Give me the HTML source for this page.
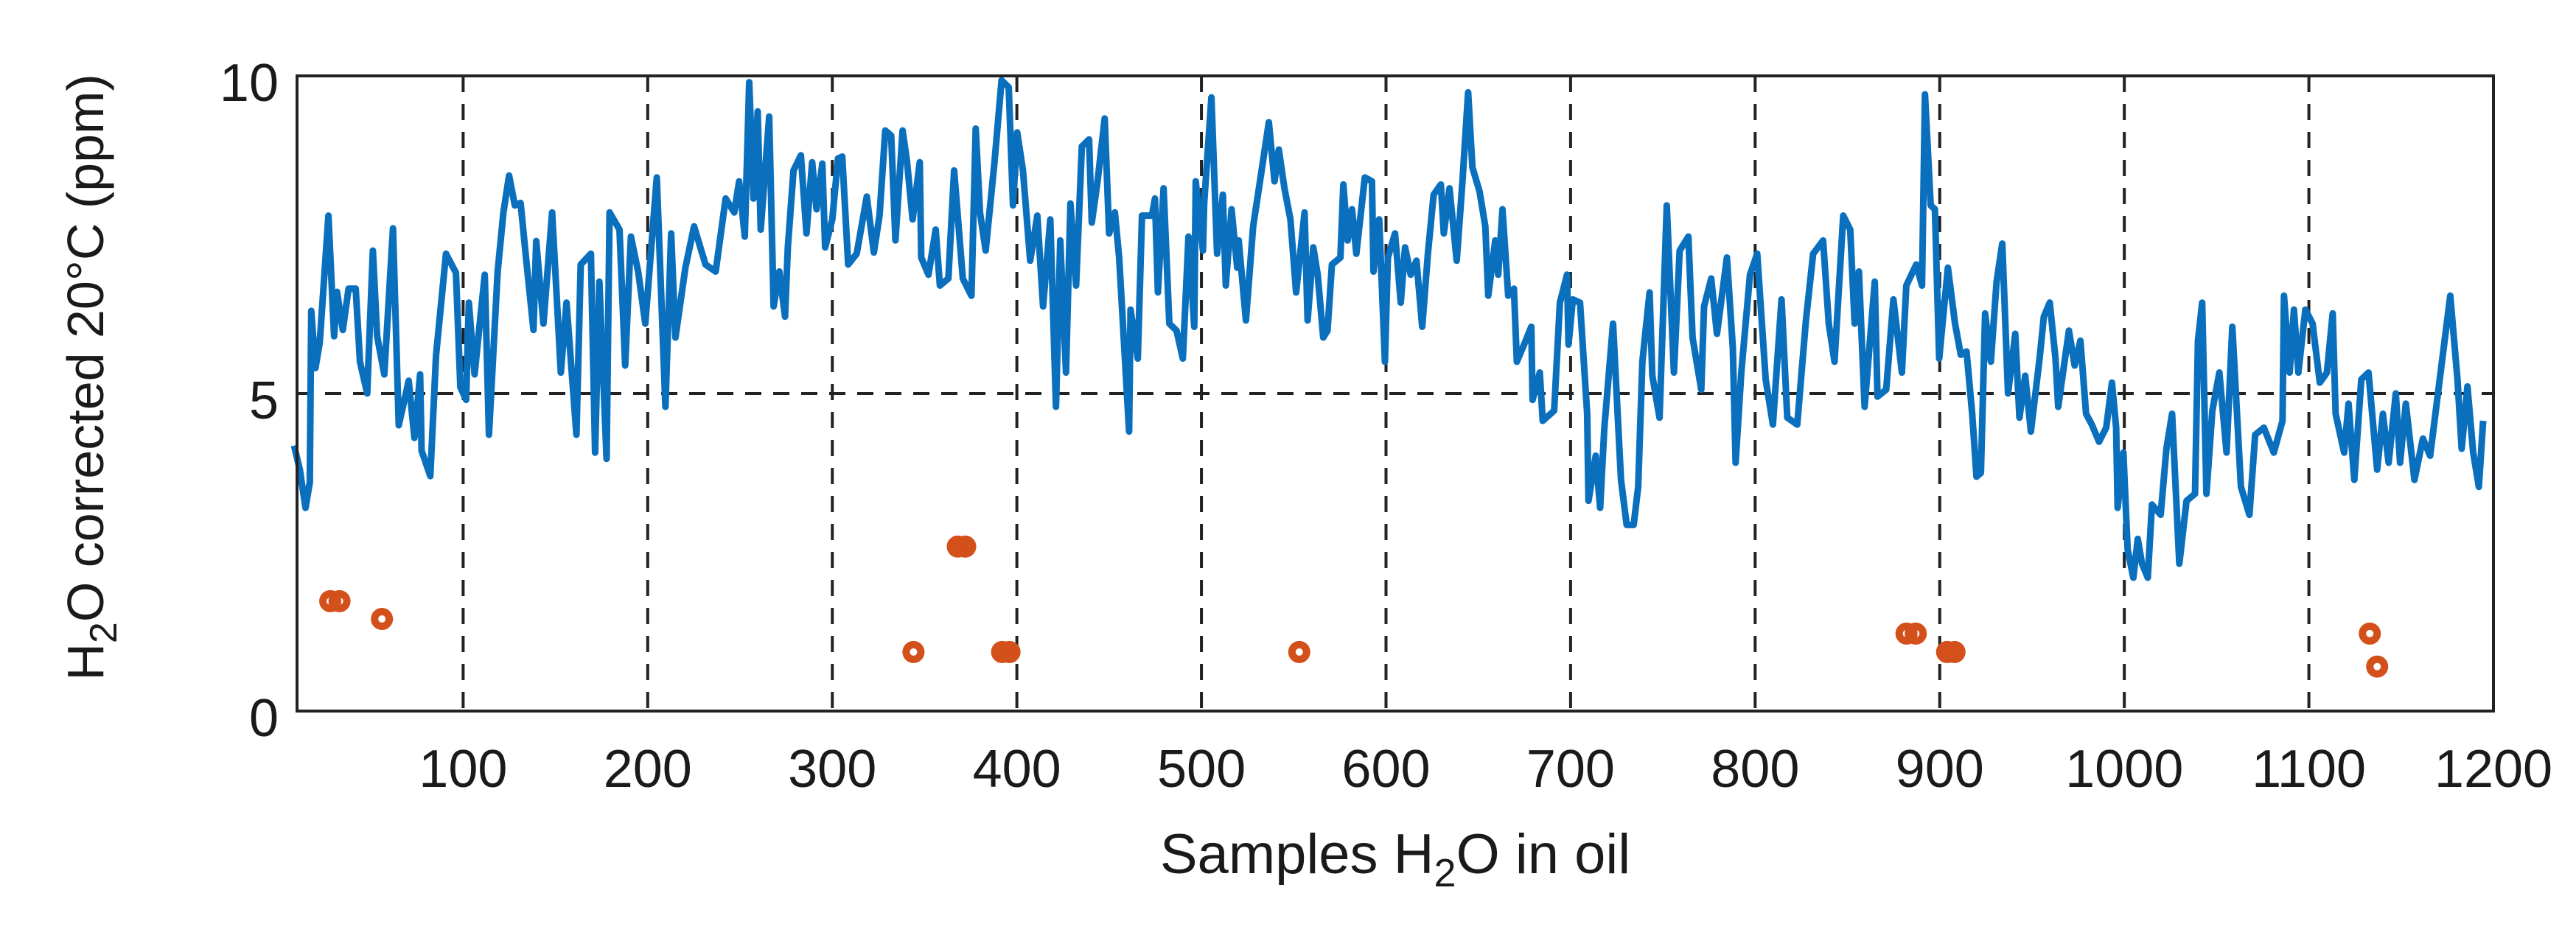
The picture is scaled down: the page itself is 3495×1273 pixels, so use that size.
<!DOCTYPE html>
<html><head><meta charset="utf-8"><style>
html,body{margin:0;padding:0;background:#fff;}
svg{display:block;font-family:"Liberation Sans",Arial,sans-serif;}
</style></head><body>
<svg id="chart" width="3495" height="1273" viewBox="0 0 3495 1273" xmlns="http://www.w3.org/2000/svg">
<rect x="0" y="0" width="3495" height="1273" fill="#fff"/>
<g id="grid"></g>
<g id="series"></g>
<rect x="403" y="103" width="2980" height="862" fill="none" stroke="#222" stroke-width="4"/>
<g id="ticks" font-size="72" fill="#1a1a1a"></g>
<text x="1893" y="1185" font-size="76" text-anchor="middle" fill="#1a1a1a">Samples H<tspan dy="18" font-size="54">2</tspan><tspan dy="-18">O in oil</tspan></text>
<text transform="translate(140,512) rotate(-90)" font-size="70" text-anchor="middle" fill="#1a1a1a">H<tspan dy="18" font-size="52">2</tspan><tspan dy="-18">O corrected 20°C (ppm)</tspan></text>
</svg>
<script>
const xTicks = [100,200,300,400,500,600,700,800,900,1000,1100,1200];
const yTicks = [0,5,10];
const lineX = [8.4,11.5,14.6,16.9,17.7,20,22.3,27,30.1,31.7,34.8,37.9,41.8,44.1,48,51.1,53.4,57.3,62,65.1,70.5,73.6,76.7,77.5,82.2,85.3,90.7,96.1,98.5,101.6,103.1,106.2,111.7,114,118.7,121.8,124.9,128,131.1,134.2,138.1,139.6,143.5,148.2,152.9,156,161.4,163.7,169.2,171.5,173.8,177.7,179.3,184.7,187.8,190.9,194.8,198.7,204.9,209.6,212.7,215,220.4,225.1,231.3,236.8,242.2,246.9,
249.5,252.6,255,257.3,259.6,261.2,265.8,268.2,271.3,274.4,275.9,279,283,286,289.1,291.5,294.6,296.1,300,303.1,305.4,308.6,313.2,318.7,322.5,325.6,328.7,331.9,334.2,338.1,340.4,343.5,347.4,348.2,352.1,356,358.3,362.9,366,370.7,375.4,377.7,380,383.1,387.8,391.7,395.6,397.9,400.2,403.3,407.2,411.1,414.2,418.1,421.2,423.5,426.6,429,432.1,435.2,439.1,440.6,443.7,447.6,450,453.1,455.4,460.8,461.6,465.5,467.8,473.2,474.8,476.4,479.5,482.6,486.5,
489.9,493,496.1,496.9,500.8,501.5,505.4,508.5,511.6,513.2,516.3,519.4,520.2,524.1,528,532.6,536.5,539.6,541.9,545,548.2,551.3,555.9,557.5,560.6,563,566,568.3,570.7,575.3,576.9,579.2,581.6,583.9,588.5,592.4,593.2,596.3,599.4,601,604.9,608,610.3,613.4,616.5,619.6,622.7,625.8,629.7,631.3,634.4,638.3,641.4,644.5,646.8,650.7,653.8,655.4,659.2,660.8,663.1,666.2,669.3,670.9,674.8,678.7,679.4,683.3,684.9,691.1,694.2,698.1,698.9,701.2,705.1,709,709.7,713.6,716,718.3,723,
727.3,730.4,734.2,736.6,738.9,742.8,744.3,748.2,752.1,756,759.1,763.8,766.1,770.8,772.3,776.2,779.3,784.7,787.9,789.4,792.5,797.2,801.1,805.7,809.6,814.3,817.4,822.8,827.5,831.4,836.8,839.9,843,847.7,851.5,853.9,856.2,859.3,864.8,866.3,871,874.9,879.5,881.9,887.3,890.4,892,895.1,897.4,899.7,904.4,908.3,911.4,914.5,917.6,919.9,922.3,924.6,927.7,930.8,933.9,937,940.9,943.2,946.3,949.4,954.1,956.4,959.6,962.7,964.2,
970,973.1,976.2,979.3,982.4,986.3,990.2,993.3,995.6,996.4,999.5,1001.8,1004.9,1007.3,1009.6,1012.7,1015,1019.7,1022.8,1025.9,1029.8,1033.7,1038.3,1039.9,1042.2,1044.5,1047.7,1051.5,1055.4,1058.5,1063.2,1067.8,1070.9,1075.6,1081,1085.7,1086.5,1089.6,1091.9,1094.3,1098.1,1102,1105.9,1109.8,1112.9,1114.5,1119.1,1121.5,1124.6,1128.4,1132.3,1137,1140.1,1143.2,1147.1,1149.4,1152.5,1157.2,1161.8,1165.7,1170.4,1176.6,1180.5,1182.8,1185.9,1189,1192.1,1194.4];
const lineY = [4.18,3.8,3.2,3.6,6.3,5.4,5.8,7.8,5.9,6.6,6.0,6.65,6.65,5.5,5.0,7.25,5.9,5.3,7.6,4.5,5.2,4.3,5.3,4.1,3.7,5.6,7.2,6.9,5.1,4.9,6.43,5.3,6.87,4.35,6.92,7.85,8.43,7.96,8.0,7.1,6.0,7.4,6.1,7.85,5.33,6.43,4.35,7.03,7.2,4.07,6.76,3.97,7.85,7.58,5.44,7.47,6.92,6.1,8.4,4.79,7.52,5.88,6.98,7.63,7.03,6.92,8.07,7.85,
8.34,7.47,9.9,8.07,9.44,7.58,9.36,6.37,6.92,6.21,7.3,8.51,8.75,7.52,8.64,7.9,8.62,7.3,7.74,8.7,8.73,7.03,7.2,8.1,7.22,7.8,9.14,9.06,7.41,9.14,8.67,7.74,8.64,7.14,6.87,7.58,6.7,6.81,8.51,6.81,6.54,9.17,7.85,7.25,8.62,9.93,9.82,7.96,9.11,8.51,7.09,7.8,6.37,7.74,4.79,7.41,5.33,7.99,6.7,8.89,9.0,7.69,8.34,9.33,7.52,7.85,7.14,4.4,6.32,5.55,7.8,7.8,8.07,6.59,8.23,6.1,5.99,
5.55,7.47,6.05,8.34,7.25,8.0,9.66,7.2,8.13,6.7,7.9,6.98,7.41,6.15,7.63,8.51,9.27,8.34,8.84,8.23,7.74,6.59,7.85,6.15,7.3,6.87,5.88,5.99,7.03,7.14,8.29,7.41,7.9,7.2,8.4,8.34,6.92,7.74,5.5,7.14,7.52,6.43,7.3,6.87,7.09,6.05,7.2,8.13,8.29,7.52,8.23,7.09,8.34,9.74,8.56,8.18,7.63,6.54,7.41,6.87,7.9,6.54,6.65,5.5,5.77,6.05,4.9,5.33,4.57,4.73,6.43,6.87,5.77,6.48,6.43,4.68,3.31,4.02,3.2,4.46,6.1,
3.64,2.93,2.93,3.53,5.5,6.59,5.28,4.62,7.96,5.33,7.25,7.47,5.88,5.06,6.37,6.81,5.94,7.14,5.72,3.91,5.33,6.87,7.2,5.22,4.51,6.48,4.62,4.51,6.15,7.2,7.41,6.1,5.5,7.8,7.58,6.1,6.92,4.79,6.76,4.95,5.06,6.48,5.33,6.7,7.03,6.7,9.71,7.96,7.9,5.55,6.98,6.1,5.61,5.66,4.68,3.69,3.75,6.26,5.5,6.76,7.36,5.0,5.94,4.62,5.28,4.4,5.55,6.21,6.43,5.55,4.79,
5.99,5.44,5.83,4.68,4.51,4.24,4.46,5.17,4.46,3.2,4.07,2.54,2.1,2.71,2.32,2.1,3.25,3.09,4.13,4.68,2.32,3.31,3.42,5.83,6.43,3.42,4.73,5.33,4.07,6.05,3.53,3.09,4.35,4.46,4.07,4.57,6.54,5.33,6.32,5.33,6.32,6.1,5.17,5.33,6.26,4.68,4.07,4.84,3.64,5.22,5.33,3.8,4.68,3.91,5.0,3.91,4.84,3.64,4.29,4.02,5.11,6.54,5.22,4.13,5.11,4.07,3.53,4.57];
const markerX = [28,33,56,344,368,372,392,396,553,882,887,904,908,1133,1137];
const markerY = [1.73,1.73,1.45,0.93,2.59,2.59,0.93,0.93,0.93,1.22,1.22,0.93,0.93,1.22,0.70];

const NS = "http://www.w3.org/2000/svg";
const X0 = 403, X1 = 3383, Y0 = 965, Y1 = 103, XMIN = 10, XMAX = 1200, YMIN = 0, YMAX = 10;
function sx(v){ return X0 + (v - XMIN) / (XMAX - XMIN) * (X1 - X0); }
function sy(v){ return Y0 - (v - YMIN) / (YMAX - YMIN) * (Y0 - Y1); }
function mk(tag, attrs){ const e = document.createElementNS(NS, tag); for (const k in attrs) e.setAttribute(k, attrs[k]); return e; }

const grid = document.getElementById('grid');
xTicks.forEach(t => {
  if (t >= XMAX) return;
  const l = mk('line', {x1: sx(t), x2: sx(t), y1: Y1, y2: Y0, stroke: '#222', 'stroke-width': 4, 'stroke-dasharray': '22 16'});
  
  
  grid.appendChild(l);
});
yTicks.forEach(t => {
  if (t <= YMIN || t >= YMAX) return;
  const l = mk('line', {x1: X0, x2: X1, y1: sy(t), y2: sy(t), stroke: '#222', 'stroke-width': 4, 'stroke-dasharray': '22 16'});
  
  
  grid.appendChild(l);
});

const series = document.getElementById('series');
let d = '';
lineX.forEach((x, i) => { d += (i ? 'L' : 'M') + sx(x).toFixed(1) + ' ' + sy(lineY[i]).toFixed(1); });
const path = mk('path', {d: d, fill: 'none', stroke: '#0a6fbd', 'stroke-width': 9, 'stroke-linejoin': 'round'});


series.appendChild(path);

markerX.forEach((x, i) => {
  const c = mk('circle', {cx: sx(x), cy: sy(markerY[i]), r: 10, fill: 'none', stroke: '#d4501a', 'stroke-width': 10});
  
  
  series.appendChild(c);
});

const ticks = document.getElementById('ticks');
xTicks.forEach(t => {
  const tx = mk('text', {x: sx(t), y: 1068, 'text-anchor': 'middle'});
  tx.textContent = t;
  
  
  ticks.appendChild(tx);
});
yTicks.forEach(t => {
  const tx = mk('text', {x: 378, y: sy(t) + 34, 'text-anchor': 'end'});
  tx.textContent = t;
  
  
  ticks.appendChild(tx);
});
</script>
</body></html>
